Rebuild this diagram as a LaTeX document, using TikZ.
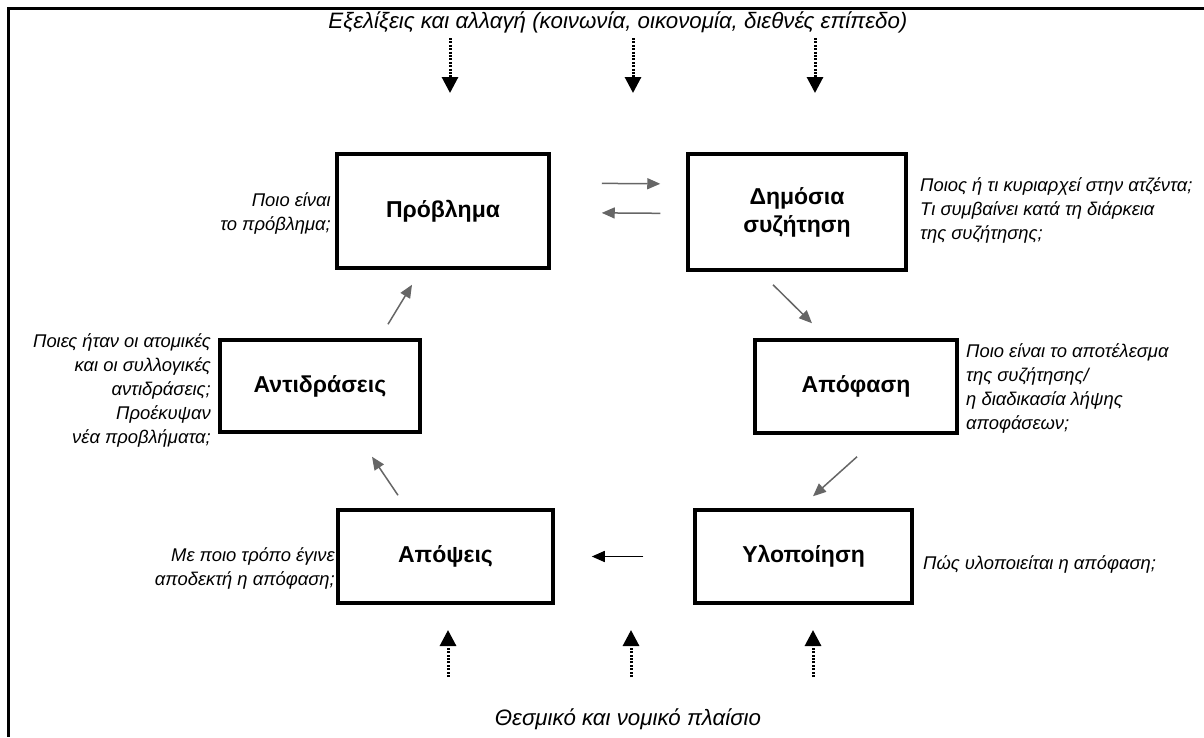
\documentclass[tikz,border=0pt]{standalone}
\usepackage{fontspec}
\setmainfont{Liberation Sans}
\usetikzlibrary{arrows.meta,positioning}

\begin{document}
\begin{tikzpicture}[x=1pt, y=-1pt,
  stage/.style = {draw, line width=3.5pt, align=center,
    font=\fontsize{23}{28}\selectfont\bfseries},
  question/.style = {inner sep=0pt, font=\fontsize{18.4}{24}\selectfont\itshape},
  context/.style = {inner sep=0pt, font=\fontsize{22.3}{26}\selectfont\itshape},
  flow/.style = {draw=black!60, line width=1.5pt,
    -{Triangle[width=11pt,length=13pt]}},
  influx/.style = {line width=3pt, dash pattern=on 2pt off 1.4pt,
    -{Triangle[width=16pt,length=16pt]}}]
  \useasboundingbox (0,0) rectangle (1204,737);
  \draw[line width=3pt] (1204,8) -- (8,8) -- (8,737);

  % stages of the cycle
  \node[stage, minimum width=212pt, minimum height=114pt] (problem) at (443,211) {Πρόβλημα};
  \node[stage, minimum width=218pt, minimum height=116pt] (debate) at (797,212) {Δημόσια\\συζήτηση};
  \node[stage, minimum width=202pt, minimum height=93pt] (decision) at (856,386.5) {Απόφαση};
  \node[stage, minimum width=217pt, minimum height=93pt] (implementation) at (803.5,556.5) {Υλοποίηση};
  \node[stage, minimum width=215pt, minimum height=93pt] (views) at (445.5,556.5) {Απόψεις};
  \node[stage, minimum width=200pt, minimum height=92pt] (reactions) at (320,386) {Αντιδράσεις};

  % questions next to the stages
  \node[question, align=right, anchor=east] (qproblem) at (331,213.5) {Ποιο είναι\\το πρόβλημα;};
  \node[question, align=left, anchor=west] (qdebate) at (920,210) {Ποιος ή τι κυριαρχεί στην ατζέντα;\\Τι συμβαίνει κατά τη διάρκεια\\της συζήτησης;};
  \node[question, align=left, anchor=west] (qdecision) at (966,388) {Ποιο είναι το αποτέλεσμα\\της συζήτησης/\\η διαδικασία λήψης\\αποφάσεων;};
  \node[question, align=left, anchor=west] (qimplementation) at (923,564) {Πώς υλοποιείται η απόφαση;};
  \node[question, align=right, anchor=east] (qviews) at (335,568.5) {Με ποιο τρόπο έγινε\\αποδεκτή η απόφαση;};
  \node[question, align=right, anchor=east] (qreactions) at (211,390) {Ποιες ήταν οι ατομικές\\και οι συλλογικές\\αντιδράσεις;\\Προέκυψαν\\νέα προβλήματα;};

  % surrounding conditions
  \node[context] (trends) at (618,22) {Εξελίξεις και αλλαγή (κοινωνία, οικονομία, διεθνές επίπεδο)};
  \node[context] (framework) at (628,719) {Θεσμικό και νομικό πλαίσιο};

  \foreach \x [count=\i] in {450,633,815} {
    \coordinate (in\i) at (\x,38);
    \coordinate (out\i) at (\x,93);
    \draw[influx] (in\i) -- (out\i);
  }
  \foreach \x [count=\i] in {448,631,813} {
    \coordinate (base\i) at (\x,677);
    \coordinate (tip\i) at (\x,630);
    \draw[influx] (base\i) -- (tip\i);
  }

  % the cycle
  \draw[flow, shorten <=51pt, shorten >=26pt] ([yshift=28pt]problem.east) -- ([yshift=28pt]debate.west);
  \draw[flow, shorten <=26pt, shorten >=51pt] ([yshift=-1.5pt]debate.west) -- ([yshift=-1.5pt]problem.east);
  \draw[flow] ([xshift=-24pt,yshift=-13pt]debate.south) -- ([xshift=-44pt,yshift=15pt]decision.north);
  \draw[flow] ([xshift=1pt,yshift=-22pt]decision.south) -- ([xshift=9.5pt,yshift=12pt]implementation.north);
  \draw[flow, draw=black, shorten <=50pt, shorten >=37pt] (implementation.west) -- (views.east);
  \draw[flow] ([xshift=-47.5pt,yshift=13pt]views.north) -- ([xshift=52pt,yshift=-23pt]reactions.south);
  \draw[flow] ([xshift=68pt,yshift=14pt]reactions.north) -- ([xshift=-31pt,yshift=-15pt]problem.south);
\end{tikzpicture}
\end{document}
